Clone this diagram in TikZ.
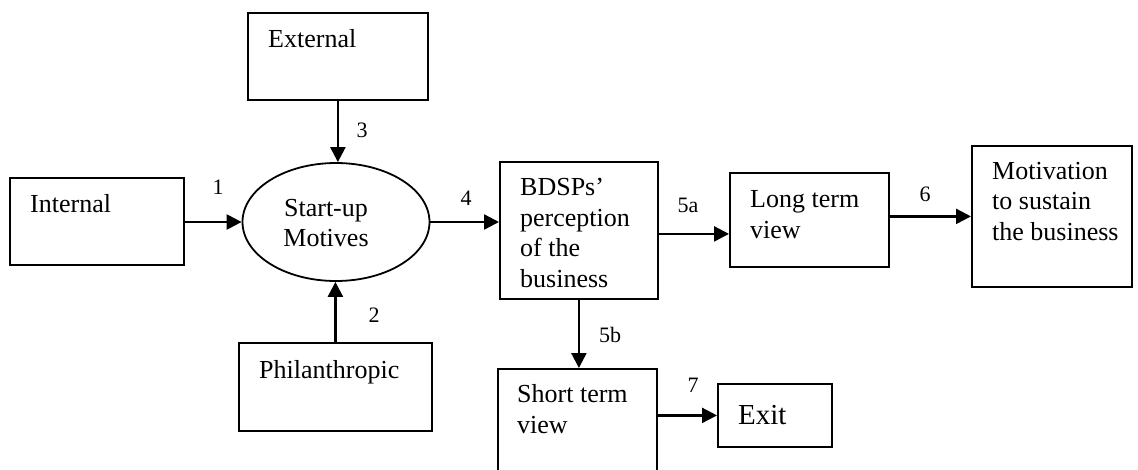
\documentclass[tikz,border=0pt]{standalone}
\usepackage{fontspec}
\setmainfont{Liberation Serif}
\usetikzlibrary{arrows.meta,shapes.geometric}
\begin{document}
\begin{tikzpicture}[x=1pt,y=1pt,
  box/.style={draw,line width=1.8pt,rectangle,inner sep=0pt,anchor=north west},
  txt/.style={anchor=base west,inner sep=0pt,align=left,font=\fontsize{26}{30.5}\selectfont},
  num/.style={inner sep=0pt,font=\fontsize{22}{26}\selectfont},
  conn/.style={line width=2.4pt,-{Triangle[length=15pt,width=15pt]}}]
\useasboundingbox (0,0) rectangle (1138,-469);
\clip (0,0) rectangle (1138,-469);
% boxes
\node[box,minimum width=180,minimum height=87] (external) at (247,-12) {};
\node[box,minimum width=174,minimum height=87] (internal) at (9,-177) {};
\node[draw,line width=1.8pt,ellipse,inner sep=0pt,minimum width=187,minimum height=118] (start) at (336,-222) {};
\node[box,minimum width=193,minimum height=88] (phil) at (238,-342) {};
\node[box,minimum width=158,minimum height=137] (bdsp) at (499,-161) {};
\node[box,minimum width=159,minimum height=94] (long) at (729,-172) {};
\node[box,minimum width=160,minimum height=141] (mot) at (971,-145) {};
\node[box,minimum width=159,minimum height=130] (short) at (497,-368) {};
\node[box,minimum width=114,minimum height=63] (exit) at (717,-383) {};
% texts (base = baseline of the last line)
\node[txt] (textternal) at (268,-47) {External};
\node[txt] (tinternal) at (30,-212) {Internal};
\node[inner sep=0pt,align=center,font=\fontsize{26}{30.5}\selectfont] (tstart) at (326,-223) {Start-up\\Motives};
\node[txt] (tphil) at (259,-378) {Philanthropic};
\node[txt] (tbdsp) at (520,-287) {BDSPs’\\perception\\of the\\business};
\node[txt] (tlong) at (750,-238) {Long term\\view};
\node[txt] (tmot) at (992,-240) {Motivation\\to sustain\\the business};
\node[txt] (tshort) at (517,-433) {Short term\\view};
\node[anchor=base west,inner sep=0pt,font=\fontsize{29}{34}\selectfont] (texit) at (738,-424) {Exit};
% connectors
\draw[conn] (internal.east |- start.west) -- (start.west);
\draw[conn] (external.south) -- (external.south |- start.north);
\draw[conn] (phil.north) -- (phil.north |- start.south);
\draw[conn] (start.east) -- (start.east -| bdsp.west);
\draw[conn] ([yshift=-3.5pt]bdsp.east) -- ([yshift=-3.5pt]bdsp.east -| long.west);
\draw[conn] (long.east |- mot.west) -- (mot.west);
\draw[conn] (bdsp.south) -- (bdsp.south |- short.north);
\draw[conn] (short.east |- exit.west) -- (exit.west);
% numbers
\node[num] (n1) at (218,-187) {1};
\node[num] (n2) at (374,-315) {2};
\node[num] (n3) at (362,-130) {3};
\node[num] (n4) at (466,-198) {4};
\node[num] (n5a) at (688,-205) {5a};
\node[num] (n5b) at (610,-335) {5b};
\node[num] (n6) at (925,-194) {6};
\node[num] (n7) at (693,-385) {7};
\end{tikzpicture}
\end{document}
